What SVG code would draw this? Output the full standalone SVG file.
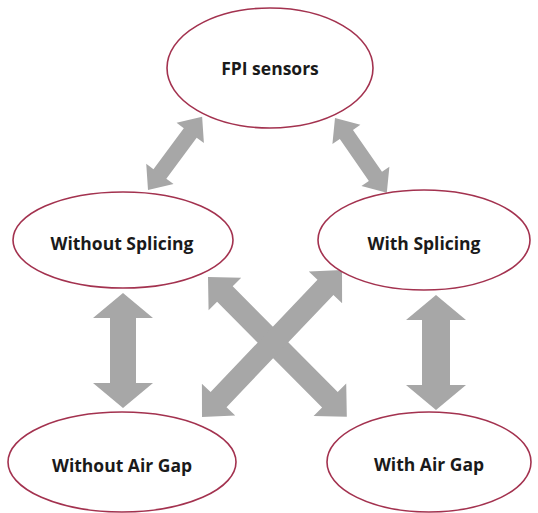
<svg xmlns="http://www.w3.org/2000/svg" width="538" height="513" viewBox="0 0 538 513">
<style>
.node ellipse{fill:#ffffff;stroke:#a3324f;stroke-width:1.6}
.node text{font-family:"Open Sans","Liberation Sans",sans-serif;font-weight:bold;font-size:17.5px;fill:#1a1a1a;text-anchor:middle}
.arrow{fill:#a7a7a7}
</style>
<rect width="538" height="513" fill="#ffffff"/>
<g id="connectors">
<path class="arrow" transform="translate(148,190) rotate(-53.5)" d="M0,0 L20,-17 L20,-8 L71,-8 L71,-17 L91,0 L71,17 L71,8 L20,8 L20,17 Z"/>
<path class="arrow" transform="translate(335,118) rotate(55.3)" d="M0,0 L20,-17 L20,-8 L71,-8 L71,-17 L91,0 L71,17 L71,8 L20,8 L20,17 Z"/>
<path class="arrow" transform="translate(123,293) rotate(90)" d="M0,0 L25,-30 L25,-13 L90,-13 L90,-30 L115,0 L90,30 L90,13 L25,13 L25,30 Z"/>
<path class="arrow" transform="translate(436,295) rotate(90)" d="M0,0 L25,-30 L25,-14 L90,-14 L90,-30 L115,0 L90,30 L90,14 L25,14 L25,30 Z"/>
<path class="arrow" transform="translate(208,277) rotate(45.2)" d="M0,0 L24,-23 L24,-11 L173,-11 L173,-23 L197,0 L173,23 L173,11 L24,11 L24,23 Z"/>
<path class="arrow" transform="translate(342,270) rotate(133.6)" d="M0,0 L24,-23 L24,-11 L179,-11 L179,-23 L203,0 L179,23 L179,11 L24,11 L24,23 Z"/>
</g>
<g id="fpi" class="node"><ellipse cx="270" cy="68" rx="103" ry="60"/><text x="270" y="75">FPI sensors</text></g>
<g id="without-splicing" class="node"><ellipse cx="123" cy="240" rx="110" ry="48"/><text x="122" y="250">Without Splicing</text></g>
<g id="with-splicing" class="node"><ellipse cx="424" cy="240" rx="106" ry="50"/><text x="424" y="250">With Splicing</text></g>
<g id="without-air-gap" class="node"><ellipse cx="122" cy="462" rx="114" ry="50"/><text x="122" y="472">Without Air Gap</text></g>
<g id="with-air-gap" class="node"><ellipse cx="429" cy="462" rx="102" ry="50"/><text x="429" y="471">With Air Gap</text></g>
</svg>
